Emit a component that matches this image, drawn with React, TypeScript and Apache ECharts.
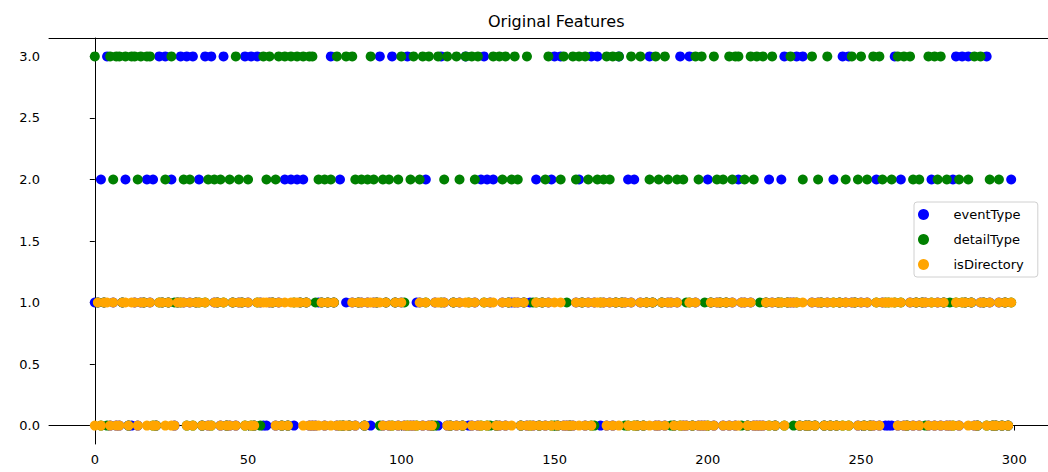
import React, { useEffect, useRef } from "react";
import * as echarts from "echarts";

const eventType = [
  1,1,2,1,3,0,1,0,0,1, 2,0,0,1,0,1,1,2,1,2, 0,3,1,3,1,2,0,1,3,1, 3,1,3,1,2,0,3,0,3,1,
  1,0,3,0,0,1,0,1,1,3, 1,3,0,3,1,0,0,1,1,0, 1,0,2,0,2,0,2,1,2,1, 0,0,0,1,1,0,1,3,1,0,
  2,0,1,0,1,0,1,1,0,1, 0,1,1,3,0,1,0,3,1,0, 1,0,3,0,0,1,1,0,2,0, 0,1,0,3,1,0,0,1,0,1,
  0,3,0,0,1,0,2,3,2,1, 2,0,0,1,0,1,1,1,1,0, 1,0,1,0,2,0,1,0,1,2, 3,0,3,0,0,0,0,1,2,1,
  0,1,3,1,3,0,1,0,1,0, 1,3,1,1,2,1,2,0,1,0, 1,3,1,0,0,1,0,1,1,0, 1,3,0,0,3,0,1,0,0,0,
  2,1,0,1,1,0,1,0,1,0, 2,1,1,0,1,0,0,0,0,1, 2,1,0,1,2,3,1,1,1,3, 0,3,0,0,1,0,1,1,0,1,
  0,2,0,1,3,1,3,1,1,0, 1,0,1,0,0,2,0,1,0,0, 0,3,0,2,0,0,1,0,1,0, 1,1,0,2,0,1,0,1,0,0,
  2,3,0,3,1,3,1,0,0,1, 1,3,1,0,0,1,0,1,0,2,
];

const detailType = [
  3,1,0,1,0,3,2,3,3,1, 3,0,3,3,2,3,1,3,3,0, 0,1,1,2,1,3,1,1,1,2, 0,2,0,1,1,0,1,2,0,2,
  1,2,1,0,2,1,3,2,1,0, 2,0,0,1,0,3,2,3,1,2, 3,0,3,0,3,1,3,1,3,1, 3,3,1,2,1,2,1,2,1,3,
  0,0,3,0,3,2,1,2,0,2, 3,2,1,0,2,1,2,0,1,2, 3,1,0,2,3,0,2,3,1,3, 0,0,3,1,2,3,0,1,3,2,
  0,3,1,3,2,3,0,1,0,0, 3,0,3,2,3,1,2,3,2,0, 1,3,0,1,1,0,1,2,3,0, 0,0,2,3,1,0,3,2,3,1,
  3,2,0,0,2,1,2,3,2,3, 1,3,1,0,0,3,0,0,3,0, 1,2,1,3,2,1,3,2,0,0, 2,0,2,1,1,0,3,2,3,1,
  0,1,3,2,1,2,1,3,2,3, 3,0,2,0,3,2,3,1,3,1, 0,3,0,1,1,0,1,3,0,1, 0,2,0,0,3,0,2,1,0,3,
  0,1,0,1,0,2,0,3,1,2, 3,0,2,0,3,1,3,2,1,1, 2,1,3,1,3,0,3,2,1,2, 1,0,3,1,3,2,3,1,2,1,
  0,1,2,1,1,2,1,3,0,3, 1,0,2,0,0,2,0,1,0,1,
];

const isDirectory = [
  0,1,0,1,1,0,1,0,0,1, 1,0,1,1,0,1,1,0,1,0, 0,1,1,0,1,0,0,1,1,1, 0,1,0,1,1,0,1,0,0,1,
  1,0,1,0,0,1,0,1,1,0, 1,0,0,1,1,1,1,1,1,0, 1,0,1,0,1,1,1,1,0,1, 0,0,0,0,1,0,1,0,1,0,
  0,0,0,0,1,0,1,1,0,1, 1,1,1,1,0,1,0,0,1,0, 1,0,0,0,0,0,1,0,1,0, 0,1,1,1,1,0,0,1,0,1,
  0,1,1,0,1,0,0,1,0,1, 1,0,0,1,0,1,0,1,1,0, 1,0,0,0,1,0,1,0,1,0, 1,0,1,0,0,0,0,1,0,1,
  0,1,0,1,1,1,1,0,1,0, 1,0,1,1,0,1,0,0,1,0, 1,0,1,0,0,1,0,1,1,0, 1,0,0,0,1,0,1,0,0,0,
  0,1,0,1,1,0,1,0,1,0, 0,1,1,0,1,0,0,0,0,1, 0,1,0,1,1,0,1,1,1,1, 0,1,0,0,1,0,1,1,0,1,
  0,1,0,1,0,1,0,1,1,0, 1,0,1,0,0,1,0,1,1,1, 1,1,0,1,0,0,1,0,1,0, 1,1,0,1,0,1,0,1,0,0,
  0,1,0,1,1,0,1,0,0,1, 1,0,1,0,0,1,0,1,0,1,
];

const xTicks = [0, 50, 100, 150, 200, 250, 300];
const yTicks = [0, 0.5, 1, 1.5, 2, 2.5, 3];
const seriesNames = ["eventType", "detailType", "isDirectory"];
const seriesColors = ["blue", "green", "orange"];

const FONT = "DejaVu Sans";

export default function App() {
  const ref = useRef<HTMLDivElement>(null);
  useEffect(() => {
    if (!ref.current) return;
    const chart = echarts.init(ref.current, null, { renderer: "svg" });
    const all = [eventType, detailType, isDirectory];
    const n = eventType.length;
    const xMin = -(n - 1) * 0.05;
    const xMax = (n - 1) * 1.05;
    const axisLine = { show: true, lineStyle: { color: "#000", width: 1 } };
    chart.setOption({
      animation: false,
      title: {
        text: "Original Features",
        left: 483,
        top: 8,
        textStyle: { fontFamily: FONT, fontSize: 16, fontWeight: "normal", color: "#000" },
      },
      legend: {
        orient: "vertical",
        left: 914,
        top: 202,
        itemWidth: 30,
        itemHeight: 11,
        itemGap: 12,
        padding: [6, 14, 6, 4],
        backgroundColor: "rgba(255,255,255,0.8)",
        borderColor: "#d0d0d0",
        borderWidth: 1,
        borderRadius: 3,
        icon: "circle",
        textStyle: { fontFamily: FONT, fontSize: 13, color: "#000", padding: [0, 0, 0, 10] },
        data: seriesNames,
      },
      grid: { left: 49, top: 38, right: 3, bottom: 28 },
      xAxis: [
        {
          type: "value",
          min: xMin,
          max: xMax,
          splitLine: { show: false },
          axisLine,
          axisTick: { show: true, length: 5, lineStyle: { color: "#000" }, customValues: xTicks },
          axisLabel: {
            margin: 9,
            fontFamily: FONT,
            fontSize: 13,
            color: "#000",
            customValues: xTicks,
            formatter: (v: number) => String(v),
          },
        },
        {
          type: "value",
          position: "top",
          min: xMin,
          max: xMax,
          splitLine: { show: false },
          axisLine,
          axisTick: { show: false },
          axisLabel: { show: false },
        },
      ],
      yAxis: {
        type: "value",
        min: -0.15,
        max: 3.15,
        splitLine: { show: false },
        axisLine,
        axisTick: { show: true, length: 5, lineStyle: { color: "#000" }, customValues: yTicks },
        axisLabel: {
          margin: 9,
          fontFamily: FONT,
          fontSize: 13,
          color: "#000",
          customValues: yTicks,
          formatter: (v: number) => v.toFixed(1),
        },
      },
      series: all.map((arr, k) => ({
        name: seriesNames[k],
        type: "scatter",
        symbol: "circle",
        symbolSize: 10,
        itemStyle: { color: seriesColors[k], opacity: 1 },
        data: arr.map((v, i) => [i, v]),
        z: 2 + k,
      })),
    });
    return () => chart.dispose();
  }, []);
  return (
    <div
      style={{
        position: "fixed",
        left: 0,
        top: 0,
        width: 1048,
        height: 472,
        overflow: "hidden",
        background: "#fff",
      }}
    >
      <div ref={ref} style={{ width: 1060, height: 472 }} />
    </div>
  );
}
